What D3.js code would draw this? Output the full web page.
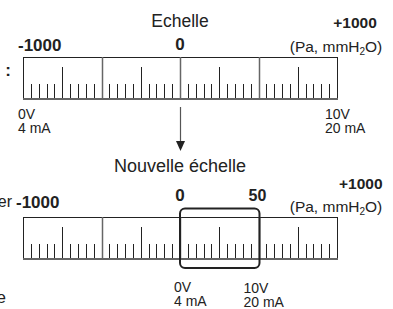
<!DOCTYPE html>
<html>
<head>
<meta charset="utf-8">
<script src="https://cdn.jsdelivr.net/npm/d3@7"></script>
<style>
  body { margin: 0; background: #fff; }
  svg { display: block; font-family: "Liberation Sans", Arial, sans-serif; }
</style>
</head>
<body>
<div id="chart"></div>
<script>
// scale data
const scaleDomain = [-1000, 1000];
const minorStep = 50;
const mediumStep = 250;
const majorStep = 500;
const newSpan = [0, 500];          // part of old scale that becomes the new one
const topTitle = 'Echelle';
const bottomTitle = 'Nouvelle échelle';
const endLabels = ['-1000', '0', '+1000'];
const newEndLabel = '50';
const unitText = ['(Pa, mmH', '2', 'O)'];
const lowSignal = ['0V', '4 mA'];
const highSignal = ['10V', '20 mA'];

const width = 393, height = 309;

const svg = d3.select('#chart')
  .append('svg')
  .attr('width', width)
  .attr('height', height);

const x = d3.scaleLinear().domain(scaleDomain).range([23, 337]);
const tickValues = d3.range(scaleDomain[0], scaleDomain[1] + 1, minorStep)
  .filter(v => v > scaleDomain[0] && v < scaleDomain[1]);

function ruler(top) {
  const h = 42;
  const g = svg.append('g');
  g.append('rect')
    .attr('x', x(scaleDomain[0]) + 0.5)
    .attr('y', top + 0.5)
    .attr('width', x(scaleDomain[1]) - x(scaleDomain[0]))
    .attr('height', h)
    .attr('fill', 'none')
    .attr('stroke', '#222')
    .attr('stroke-width', 1);

  g.selectAll('line.tick')
    .data(tickValues)
    .join('line')
    .attr('class', 'tick')
    .attr('x1', d => Math.round(x(d)) + 0.5)
    .attr('x2', d => Math.round(x(d)) + 0.5)
    .attr('y1', d => d % majorStep === 0 ? top : d % mediumStep === 0 ? top + 10 : top + 27)
    .attr('y2', top + h)
    .attr('stroke', d => d % majorStep === 0 ? '#666' : '#222')
    .attr('stroke-width', d => d % majorStep === 0 ? 1.5 : 1);

  g.append('line')
    .attr('x1', x(scaleDomain[0]))
    .attr('x2', x(scaleDomain[1]) + 1)
    .attr('y1', top + h)
    .attr('y2', top + h)
    .attr('stroke', '#666')
    .attr('stroke-width', 2);
}

function units(yPos) {
  const t = svg.append('text')
    .attr('x', 336)
    .attr('y', yPos)
    .attr('text-anchor', 'middle')
    .attr('font-size', 15.5)
    .attr('fill', '#222');
  t.append('tspan').text(unitText[0]);
  t.append('tspan').attr('font-size', 10).attr('dy', 3).text(unitText[1]);
  t.append('tspan').attr('dy', -3).text(unitText[2]);
}

function signal(labels, x0, y0) {
  svg.append('text').attr('x', x0).attr('y', y0)
    .attr('font-size', 14).attr('fill', '#222').text(labels[0]);
  svg.append('text').attr('x', x0).attr('y', y0 + 14)
    .attr('font-size', 14).attr('fill', '#222').text(labels[1]);
}

function bold(txt, xPos, yPos, size, anchor) {
  svg.append('text')
    .attr('x', xPos).attr('y', yPos)
    .attr('text-anchor', anchor)
    .attr('font-size', size)
    .attr('font-weight', 'bold')
    .attr('fill', '#222')
    .text(txt);
}

// --- top scale
svg.append('text')
  .attr('x', x(0)).attr('y', 27)
  .attr('text-anchor', 'middle')
  .attr('font-size', 17.5)
  .attr('fill', '#222')
  .text(topTitle);
bold(endLabels[0], x(scaleDomain[0]) - 5, 51, 17, 'start');
bold(endLabels[1], x(0), 50, 17, 'middle');
bold(endLabels[2], x(scaleDomain[1]) + 18, 28, 15.5, 'middle');
units(52);
svg.append('text').attr('x', 11).attr('y', 76)
  .attr('text-anchor', 'end').attr('font-size', 17).attr('font-weight', 'bold')
  .attr('fill', '#222').text(':');
ruler(57);
signal(lowSignal, x(scaleDomain[0]) - 5, 119);
signal(highSignal, x(scaleDomain[1]) - 12, 119);

// --- arrow
svg.append('line')
  .attr('x1', x(0) + 0.5).attr('x2', x(0) + 0.5)
  .attr('y1', 107).attr('y2', 143)
  .attr('stroke', '#555').attr('stroke-width', 1.2);
svg.append('path')
  .attr('d', `M${x(0) - 4},141 L${x(0) + 5},141 L${x(0) + 0.5},151 Z`)
  .attr('fill', '#222');

// --- new scale
svg.append('text')
  .attr('x', x(0)).attr('y', 172)
  .attr('text-anchor', 'middle')
  .attr('font-size', 18)
  .attr('fill', '#222')
  .text(bottomTitle);
svg.append('text').attr('x', 12).attr('y', 207)
  .attr('text-anchor', 'end').attr('font-size', 16)
  .attr('fill', '#222').text('er');
svg.append('text').attr('x', 6).attr('y', 303)
  .attr('text-anchor', 'end').attr('font-size', 17)
  .attr('fill', '#222').text('e');
bold(endLabels[0], x(scaleDomain[0]) - 7, 208, 17, 'start');
bold(endLabels[1], x(newSpan[0]), 201, 17, 'middle');
bold(newEndLabel, x(newSpan[1]) - 1, 201, 16, 'middle');
bold(endLabels[2], x(scaleDomain[1]) + 2, 189, 15.5, 'start');
units(212);
ruler(217);

svg.append('rect')
  .attr('x', x(newSpan[0]))
  .attr('y', 208.5)
  .attr('width', x(newSpan[1]) - x(newSpan[0]) + 1)
  .attr('height', 59.5)
  .attr('rx', 5)
  .attr('fill', 'none')
  .attr('stroke', '#222')
  .attr('stroke-width', 2);

signal(lowSignal, x(newSpan[0]) - 6, 292);
signal(highSignal, x(newSpan[1]) - 15, 293);
</script>
</body>
</html>
